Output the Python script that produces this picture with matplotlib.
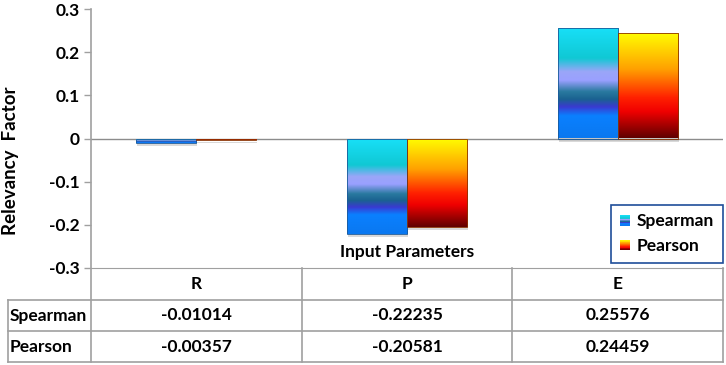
import numpy as np
import matplotlib
matplotlib.use("Agg")
import matplotlib.pyplot as plt
from matplotlib.colors import LinearSegmentedColormap
from matplotlib.legend_handler import HandlerBase
from matplotlib.patches import Rectangle
from matplotlib.lines import Line2D
from matplotlib import transforms

# ---------------- data ----------------
categories = ["R", "P", "E"]
series_names = ["Spearman", "Pearson"]
spearman = [-0.01014, -0.22235, 0.25576]
pearson = [-0.00357, -0.20581, 0.24459]
yticks = [-0.3, -0.2, -0.1, 0, 0.1, 0.2, 0.3]
ytick_labels = ["-0.3", "-0.2", "-0.1", "0", "0.1", "0.2", "0.3"]
ylabel = "Relevancy  Factor"
xlabel = "Input Parameters"

plt.rcParams['font.family'] = ['Lato', 'DejaVu Sans']
plt.rcParams['font.weight'] = 'bold'

FS = 12.5

# gradients (top -> bottom)
spear_cmap = LinearSegmentedColormap.from_list("spear", [
    (0.00, "#18e0f8"), (0.28, "#10c8d4"), (0.40, "#9aa6f8"), (0.48, "#9aa0ff"),
    (0.58, "#2a7aa0"), (0.65, "#1a6290"), (0.72, "#3a3ad0"), (0.80, "#0a80ff"),
    (1.00, "#0a78f0")])
pear_cmap = LinearSegmentedColormap.from_list("pear", [
    (0.00, "#ffff00"), (0.35, "#ffa000"), (0.62, "#ff2000"), (0.75, "#f00000"),
    (1.00, "#600000")])
cmaps = {"Spearman": spear_cmap, "Pearson": pear_cmap}
edges = {"Spearman": "#1a5a9a", "Pearson": "#8a3000"}

W, H = 726, 365
fig = plt.figure(figsize=(W / 100, H / 100), dpi=100)
ax_left, ax_right, ax_top, ax_bot = 91, 723, 9, 268
ax = fig.add_axes([ax_left / W, 1 - ax_bot / H, (ax_right - ax_left) / W, (ax_bot - ax_top) / H])

x = np.arange(len(categories))
bw = 0.285
grad = np.linspace(0, 1, 256).reshape(-1, 1)

containers = []
for i, (name, vals) in enumerate(zip(series_names, [spearman, pearson])):
    off = (i - 0.5) * bw
    bars = ax.bar(x + off, vals, bw, color="none", edgecolor=edges[name], linewidth=0.6,
                  label=name, zorder=4)
    containers.append(bars)
    for rect in bars:
        x0 = rect.get_x()
        y0 = rect.get_y()
        h = rect.get_height()
        lo, hi = min(y0, y0 + h), max(y0, y0 + h)
        sh = Rectangle((x0, lo), rect.get_width(), hi - lo, facecolor="#000000", alpha=0.15,
                       edgecolor="none", zorder=2,
                       transform=ax.transData + transforms.ScaledTranslation(1.0 / 100, -3 / 100, fig.dpi_scale_trans))
        ax.add_patch(sh)
        im = ax.imshow(cmaps[name](grad), extent=[x0, x0 + rect.get_width(), lo, hi],
                       aspect="auto", origin="upper", zorder=3, interpolation="bilinear")
        im.set_clip_path(rect)

ax.set_xlim(-0.5, len(categories) - 0.5)
ax.set_ylim(-0.3, 0.3)
ax.axhline(0, color="#8c8c8c", linewidth=1.0, zorder=1)

for s in ["top", "right", "left"]:
    ax.spines[s].set_visible(False)
ax.spines["bottom"].set_color("#a0a0a0")
ax.set_xticks([])
ax.set_yticks(yticks)
ax.set_yticklabels(ytick_labels, fontsize=FS, fontweight="bold")
ax.tick_params(axis="y", length=5, color="#a0a0a0", pad=3, width=1)

ax.text(1.0, -0.262, xlabel, ha="center", va="center", fontsize=FS, fontweight="bold")
fig.text(11 / W, 1 - 161 / H, ylabel, rotation=90, ha="center", va="center",
         fontsize=13.5, fontweight="bold")

# ---------------- legend ----------------
class GradHandler(HandlerBase):
    def create_artists(self, legend, orig_handle, xdescent, ydescent, width, height, fontsize, trans):
        cmap = cmaps[orig_handle.get_label()]
        s = min(width, height)
        x0 = -xdescent + (width - s) / 2
        y0 = -ydescent + (height - s) / 2
        n = 12
        arts = []
        for k in range(n):
            c = cmap((k + 0.5) / n)
            arts.append(Rectangle((x0, y0 + s - (k + 1) * s / n), s, s / n, facecolor=c,
                                  edgecolor="none", transform=trans))
        return arts

leg = ax.legend(handles=containers, labels=series_names,
                handler_map={type(containers[0]): GradHandler()},
                loc="lower right", bbox_to_anchor=(1.0, 0.02), borderaxespad=0,
                prop={"weight": "bold", "size": FS},
                handlelength=0.6, handleheight=0.6, handletextpad=0.4,
                labelspacing=0.5, borderpad=0.5, fancybox=False, framealpha=1)
leg.get_frame().set_edgecolor("#1f4e99")
leg.get_frame().set_linewidth(1.2)
leg.set_zorder(6)

# ---------------- data table ----------------
def fy(py):
    return 1 - py / H

bt = transforms.blended_transform_factory(ax.transData, fig.transFigure)
ft = fig.transFigure
gray = "#a0a0a0"
row_lines = [268, 300, 331, 362]
tab_left = 8

fig.add_artist(Line2D([ax_left / W, ax_left / W], [fy(ax_top), fy(row_lines[-1])], color=gray, lw=1.2, transform=ft))
for py in row_lines[1:]:
    fig.add_artist(Line2D([tab_left / W, ax_right / W], [fy(py), fy(py)], color=gray, lw=1.2, transform=ft))
fig.add_artist(Line2D([tab_left / W, tab_left / W], [fy(row_lines[1]), fy(row_lines[-1])], color=gray, lw=1.2, transform=ft))
for b in np.arange(len(categories)) + 0.5:
    fig.add_artist(Line2D([b, b], [fy(row_lines[0]), fy(row_lines[-1])], color=gray, lw=1.2, transform=bt))

for xi, c in zip(x, categories):
    fig.text(xi, fy((row_lines[0] + row_lines[1]) / 2), c, ha="center", va="center",
             fontsize=FS, fontweight="bold", transform=bt)
for r, (name, vals) in enumerate(zip(series_names, [spearman, pearson])):
    yc = fy((row_lines[r + 1] + row_lines[r + 2]) / 2)
    fig.text((tab_left + 2) / W, yc, name, ha="left", va="center", fontsize=FS, fontweight="bold")
    for xi, v in zip(x, vals):
        fig.text(xi, yc, f"{v:.5f}", ha="center", va="center", fontsize=FS, fontweight="bold", transform=bt)

fig.savefig("out.png", dpi=100)
